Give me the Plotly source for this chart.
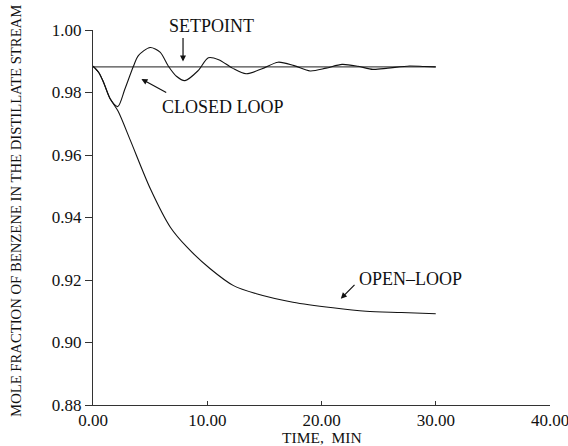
import plotly.graph_objects as go

# Data
setpoint_t = [0.0, 30.0]
setpoint_y = [0.9882, 0.9882]

closed_t = [0.0, 0.5, 0.92, 1.5, 2.17, 2.8, 3.54, 3.97, 5.0, 5.87, 6.6, 7.3, 8.05, 9.2, 10.1,
            11.0, 12.2, 13.4, 14.8, 16.2, 17.6, 19.0, 20.4, 21.8, 23.2, 24.5, 25.8, 27.7, 29.0, 30.0]
closed_y = [0.9884, 0.9864, 0.9833, 0.9780, 0.9755, 0.9812, 0.9884, 0.9918, 0.9944, 0.9929, 0.9884, 0.9852, 0.9838, 0.9870, 0.9911,
            0.9905, 0.9878, 0.9860, 0.9876, 0.9897, 0.9886, 0.9869, 0.9878, 0.9890, 0.9884, 0.9874, 0.9878, 0.9885, 0.9883, 0.9882]

open_t = [0.0, 0.5, 0.92, 1.5, 2.2, 3.28, 5.02, 6.77, 8.23, 10.26, 12.3, 14.3, 17.5, 21.0, 23.9, 27.0, 30.0]
open_y = [0.9884, 0.9864, 0.9833, 0.9780, 0.9740, 0.9646, 0.9492, 0.9369, 0.9305, 0.9236, 0.9182, 0.9156, 0.9129, 0.9111, 0.9100, 0.9096, 0.9092]

x_ticks = [0, 10, 20, 30, 40]
x_tick_labels = ["0.00", "10.00", "20.00", "30.00", "40.00"]
y_ticks = [0.88, 0.90, 0.92, 0.94, 0.96, 0.98, 1.00]
y_tick_labels = ["0.88", "0.90", "0.92", "0.94", "0.96", "0.98", "1.00"]

x_title = "TIME,  MIN"
y_title = "MOLE FRACTION OF BENZENE IN THE DISTILLATE STREAM"

FONT = "Liberation Serif"
INK = "#111111"

fig = go.Figure()
fig.add_trace(go.Scatter(x=setpoint_t, y=setpoint_y, mode="lines",
                         line=dict(color="#4a4a4a", width=1.4), hoverinfo="skip"))
fig.add_trace(go.Scatter(x=open_t, y=open_y, mode="lines",
                         line=dict(color=INK, width=1.1, shape="spline", smoothing=0.8)))
fig.add_trace(go.Scatter(x=closed_t, y=closed_y, mode="lines",
                         line=dict(color=INK, width=1.1, shape="spline", smoothing=0.8)))

ann_font = dict(family=FONT, size=18, color=INK)
arrow = dict(showarrow=True, arrowhead=2, arrowsize=1, arrowwidth=1.2, arrowcolor=INK, text="")
# SETPOINT
fig.add_annotation(x=7.88, y=0.9899, ax=0, ay=-25, xref="x", yref="y", **arrow)
fig.add_annotation(x=10.34, y=1.0115, xref="x", yref="paper", text="SETPOINT", showarrow=False,
                   font=ann_font, yanchor="middle")
# CLOSED LOOP
fig.add_annotation(x=4.24, y=0.98432, ax=6.54, ay=0.97974, xref="x", yref="y", axref="x", ayref="y", **arrow)
fig.add_annotation(x=11.36, y=0.97526, xref="x", yref="y", text="CLOSED LOOP", showarrow=False,
                   font=ann_font, yanchor="middle")
# OPEN-LOOP
fig.add_annotation(x=21.69, y=0.91402, ax=23.02, ay=0.91894, xref="x", yref="y", axref="x", ayref="y", **arrow)
fig.add_annotation(x=27.76, y=0.92032, xref="x", yref="y", text="OPEN\u2013LOOP", showarrow=False,
                   font=ann_font, yanchor="middle")
# Axis titles
fig.add_annotation(x=-0.1671, y=0.5166, xref="paper", yref="paper", text=y_title, textangle=-90,
                   showarrow=False, font=dict(family=FONT, size=14.7, color=INK),
                   xanchor="center", yanchor="middle")
fig.add_annotation(x=0.5013, y=-0.087, xref="paper", yref="paper", text=x_title,
                   showarrow=False, font=dict(family=FONT, size=15.5, color=INK),
                   xanchor="center", yanchor="middle")

fig.update_layout(
    width=568, height=446,
    margin=dict(l=92.5, r=17.7, t=30, b=40.5, autoexpand=False),
    paper_bgcolor="white", plot_bgcolor="white",
    showlegend=False,
    font=dict(family=FONT, color=INK),
)
fig.update_xaxes(range=[0, 40], tickvals=x_ticks, ticktext=x_tick_labels, automargin=False,
                 showgrid=False, zeroline=False, showline=True, linecolor="#333333", linewidth=1,
                 ticks="inside", ticklen=4, tickcolor="#333333", ticklabeloverflow="allow",
                 tickfont=dict(family=FONT, size=17, color=INK))
fig.update_yaxes(range=[0.88, 1.0], tickvals=y_ticks, ticktext=y_tick_labels, automargin=False,
                 showgrid=False, zeroline=False, showline=True, linecolor="#333333", linewidth=1,
                 ticks="outside", ticklen=7, tickcolor="#333333", ticklabeloverflow="allow",
                 tickfont=dict(family=FONT, size=17, color=INK))

fig.write_html("out.html", config={"displayModeBar": False},
               post_script="document.body.style.margin='0';document.body.style.padding='0';"
                           "document.body.style.overflow='hidden';")
